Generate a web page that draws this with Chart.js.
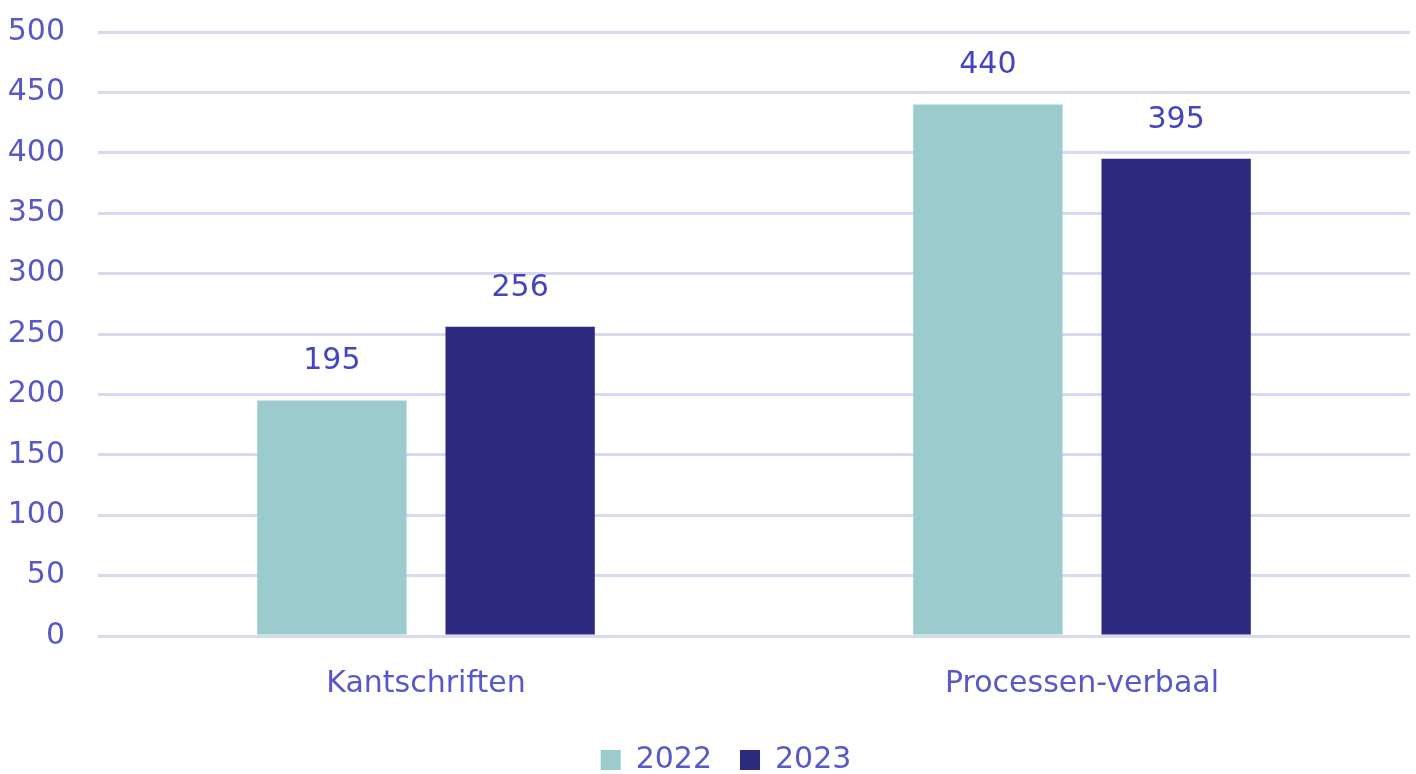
<!DOCTYPE html>
<html>
<head>
<meta charset="utf-8">
<script src="https://cdn.jsdelivr.net/npm/chart.js@4"></script>
<style>
  html, body { margin: 0; padding: 0; background: #fff; }
  #wrap { width: 1416px; height: 774px; }
</style>
</head>
<body>
<div id="wrap"><canvas id="chart"></canvas></div>
<script>
const categories = ['Kantschriften', 'Processen-verbaal'];
const years = ['2022', '2023'];
const values2022 = [195, 440];
const values2023 = [256, 395];
const yTicks = [0, 50, 100, 150, 200, 250, 300, 350, 400, 450, 500];

const textColor = '#5858c8';
const labelColor = '#4444c0';
const fontFamily = '"DejaVu Sans", Verdana, sans-serif';

// labels boven de staven
const valueLabels = {
    id: 'valueLabels',
    afterLayout(chart) {
        // legenda iets naar rechts, zoals in het origineel
        chart.legend.left = 42;
    },
    afterDatasetsDraw(chart) {
        const ctx = chart.ctx;
        ctx.save();
        ctx.font = `30px ${fontFamily}`;
        ctx.fillStyle = labelColor;
        ctx.textAlign = 'center';
        ctx.textBaseline = 'middle';
        chart.data.datasets.forEach((ds, i) => {
            chart.getDatasetMeta(i).data.forEach((bar, j) => {
                ctx.fillText(ds.data[j], bar.x, bar.y - 39);
            });
        });
        ctx.restore();
    }
};

new Chart(document.getElementById('chart'), {
    type: 'bar',
    data: {
        labels: categories,
        datasets: [
            { label: years[0], data: values2022, backgroundColor: '#9bcbcc' },
            { label: years[1], data: values2023, backgroundColor: '#2b2a7f' }
        ]
    },
    options: {
        responsive: true,
        maintainAspectRatio: false,
        animation: false,
        categoryPercentage: 0.574,
        barPercentage: 0.793,
        layout: { padding: { top: 32, right: 6, left: 0, bottom: -11 } },
        scales: {
            x: {
                grid: { display: false },
                border: { display: false },
                ticks: { color: textColor, font: { family: fontFamily, size: 30 }, padding: 22 },
                afterFit: (axis) => { axis.height = 81; }
            },
            y: {
                min: 0,
                max: 500,
                afterBuildTicks: (axis) => { axis.ticks = yTicks.map(v => ({ value: v })); },
                grid: { color: '#d9d9f0', lineWidth: 3, drawTicks: false },
                border: { display: false },
                ticks: { color: textColor, font: { family: fontFamily, size: 30 }, padding: 33 },
                afterFit: (axis) => {
                    axis.width = 98;
                    axis.paddingTop = 0;
                    axis.paddingBottom = 0;
                }
            }
        },
        plugins: {
            legend: {
                position: 'bottom',
                labels: {
                    color: textColor,
                    font: { family: fontFamily, size: 30 },
                    boxWidth: 20,
                    boxHeight: 20,
                    padding: 28
                }
            },
            tooltip: { enabled: false }
        }
    },
    plugins: [valueLabels]
});
</script>
</body>
</html>
